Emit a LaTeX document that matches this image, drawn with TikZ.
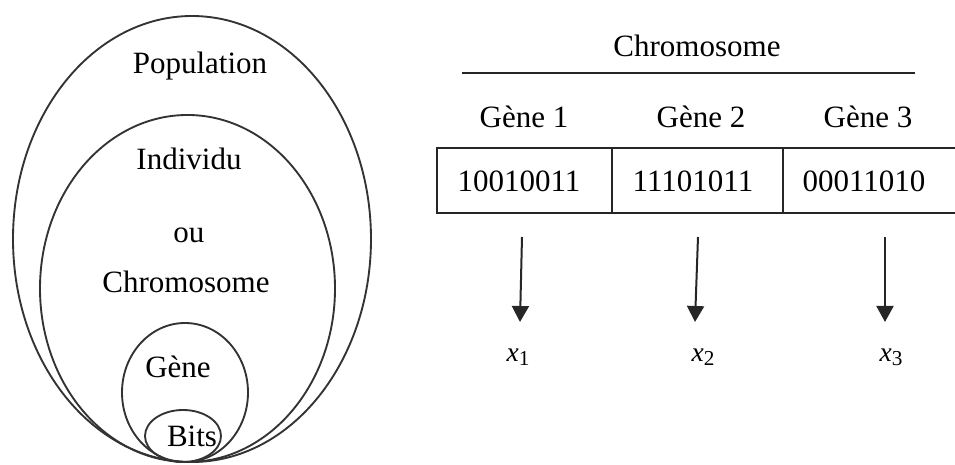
\documentclass[tikz,border=0pt]{standalone}
\usepackage{fontspec}
\setmainfont{Liberation Serif}
\usetikzlibrary{arrows.meta}
\begin{document}
\begin{tikzpicture}[x=0.4pt,y=-0.4pt,
  lbl/.style={anchor=base,inner sep=0pt,font=\fontsize{12.4}{14}\selectfont},
  var/.style={anchor=base,inner sep=0pt,font=\fontsize{11}{13}\selectfont},
  ring/.style={draw=black!80,line width=0.75pt},
  cell/.style={draw=black!85,line width=0.6pt,minimum height=26pt,inner sep=0pt},
  arr/.style={draw=black!85,line width=0.8pt,-{Triangle[width=6.8pt,length=6.4pt]}}]
\useasboundingbox (0,0) rectangle (955,465);
\clip (0,0) rectangle (955,465);
% nested sets: population, individual, gene, bits
\draw[ring] (192,239) ellipse [x radius=179,y radius=223];
\draw[ring] (187.5,288.5) ellipse [x radius=147.5,y radius=173.5];
\draw[ring] (185,392.5) ellipse [x radius=63,y radius=69.5];
\draw[ring] (183,436) ellipse [x radius=38,y radius=26];
\node[lbl] (pop) at (200,74) {Population};
\node[lbl] (ind) at (189,170) {Individu};
\node[lbl] (ou) at (189,243) {ou};
\node[lbl] (chr) at (186,293) {Chromosome};
\node[lbl] (gen) at (178,378) {Gène};
\node[lbl] (bit) at (192,447) {Bits};
% chromosome made of three genes
\node[lbl] (ctitle) at (697,57) {Chromosome};
\coordinate (rl) at (462,73);
\coordinate (rr) at (915,73);
\draw[line width=0.6pt,draw=black!85] (rl) -- (rr);
\node[lbl] (g1) at (524,128) {Gène 1};
\node[lbl] (g2) at (701,128) {Gène 2};
\node[lbl] (g3) at (868,128) {Gène 3};
\node[cell,minimum width=70pt] (c1) at (524.5,180.5) {};
\node[cell,minimum width=68.4pt] (c2) at (697.5,180.5) {};
\node[cell,minimum width=70pt] (c3) at (870.5,180.5) {};
\node[lbl] (v1) at (519,192) {10010011};
\node[lbl] (v2) at (693,192) {11101011};
\node[lbl] (v3) at (864,192) {00011010};
% decoding of each gene into a variable
\node[var] (x1) at (518,362) {\textit{x}\raisebox{-0.3ex}{\fontsize{8.5}{10}\selectfont 1}};
\node[var] (x2) at (703,362) {\textit{x}\raisebox{-0.3ex}{\fontsize{8.5}{10}\selectfont 2}};
\node[var] (x3) at (891,362) {\textit{x}\raisebox{-0.3ex}{\fontsize{8.5}{10}\selectfont 3}};
\coordinate (a1) at (522,237);
\coordinate (b1) at (520,322);
\coordinate (a2) at (698,237);
\coordinate (b2) at (695,322);
\coordinate (a3) at (885,237);
\coordinate (b3) at (885,322);
\draw[arr] (a1) -- (b1);
\draw[arr] (a2) -- (b2);
\draw[arr] (a3) -- (b3);
\end{tikzpicture}
\end{document}
